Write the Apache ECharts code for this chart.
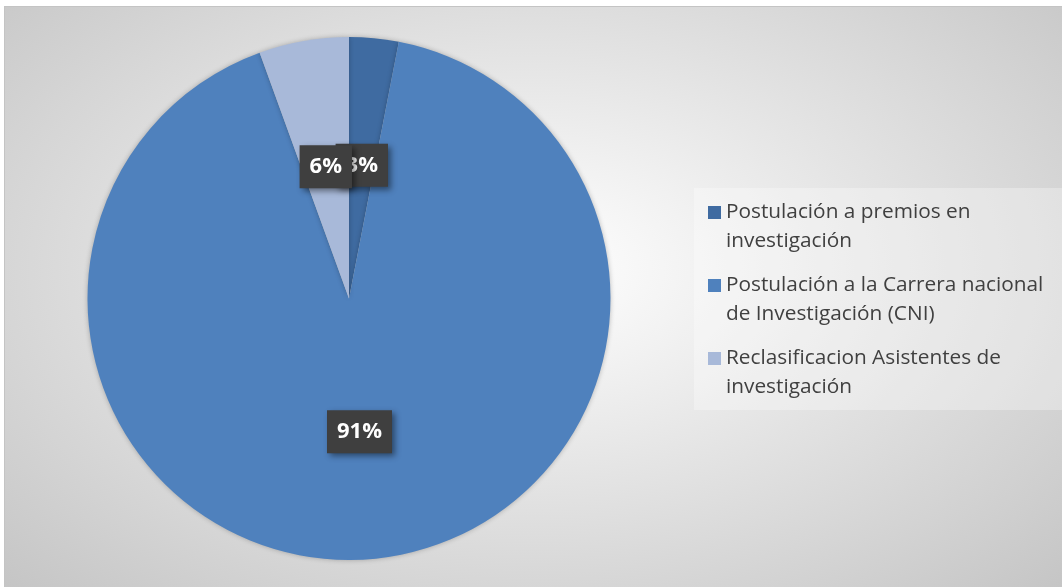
<!DOCTYPE html>
<html>
<head>
<meta charset="utf-8">
<script src="https://cdn.jsdelivr.net/npm/echarts@6/dist/echarts.min.js"></script>
<style>
  html, body { margin: 0; padding: 0; width: 1062px; height: 587px; background: #ffffff; overflow: hidden; }
  #bg { position: absolute; left: 4px; top: 6px; width: 1058px; height: 581px;
        border-top: 1px solid #c4c4c4; border-left: 1px solid #c4c4c4;
        background: radial-gradient(farthest-corner at 50% 45%, #ffffff 0%, #c5c5c5 100%); }
  #chart { position: absolute; left: 0; top: 0; width: 1062px; height: 587px; }
</style>
</head>
<body>
<div id="bg"></div>
<div id="chart"></div>
<script>
const categories = [
  'Postulación a premios en\ninvestigación',
  'Postulación a la Carrera nacional\nde Investigación (CNI)',
  'Reclasificacion Asistentes de\ninvestigación'
];
const values = [3.05, 91.4, 5.55];
const colors = ['#3f6ba1', '#4f81bd', '#a8b9d9'];

const chart = echarts.init(document.getElementById('chart'), null, { renderer: 'canvas' });
chart.setOption({
  backgroundColor: 'transparent',
  animation: false,
  color: colors,
  graphic: [{
    type: 'rect', left: 694, top: 188, z: 0, silent: true,
    shape: { width: 368, height: 222 },
    style: { fill: 'rgba(255,255,255,0.3)' }
  }],
  legend: {
    orient: 'vertical',
    left: 708,
    top: 169,
    padding: 0,
    itemGap: -14,
    itemWidth: 13,
    itemHeight: 13,
    icon: 'rect',
    selectedMode: false,
    data: categories,
    formatter: name => '\n' + name,
    textStyle: {
      color: '#404040',
      fontFamily: 'Open Sans',
      fontSize: 20.8,
      lineHeight: 29
    }
  },
  series: [{
    type: 'pie',
    center: [349, 298.5],
    radius: [0, 261.5],
    startAngle: 90,
    clockwise: true,
    silent: true,
    avoidLabelOverlap: false,
    emphasis: { disabled: true },
    labelLayout: { hideOverlap: false },
    itemStyle: { borderWidth: 0, shadowBlur: 5, shadowColor: 'rgba(0,0,0,0.25)' },
    label: {
      show: true,
      position: 'inside',
      formatter: p => Math.round(p.percent) + '%',
      color: '#ffffff',
      fontFamily: 'Open Sans',
      fontWeight: 'bold',
      fontSize: 22,
      backgroundColor: '#3f3f3f',
      padding: [11, 10, 10, 10],
      shadowColor: 'rgba(0,0,0,0.45)',
      shadowBlur: 6,
      shadowOffsetX: 3,
      shadowOffsetY: 3
    },
    labelLine: { show: false },
    data: categories.map((c, i) => ({ name: c, value: values[i] }))
  }]
});
</script>
</body>
</html>
